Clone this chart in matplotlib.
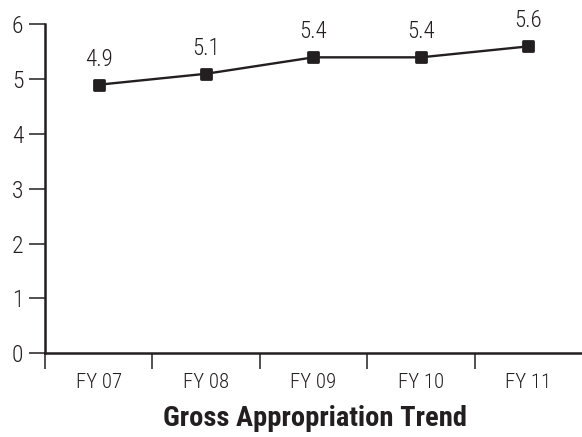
import matplotlib.pyplot as plt
from matplotlib.markers import MarkerStyle

plt.rcParams['font.family'] = ['Roboto Condensed', 'DejaVu Sans']
plt.rcParams['font.weight'] = 'light'

# Gross appropriation trend by fiscal year
years = ['FY 07', 'FY 08', 'FY 09', 'FY 10', 'FY 11']
values = [4.9, 5.1, 5.4, 5.4, 5.6]
y_ticks = [0, 1, 2, 3, 4, 5, 6]

INK = '#231f20'


def main() -> None:
    fig = plt.figure(figsize=(5.82, 4.37), dpi=100)
    ax = fig.add_axes([0.0773, 0.192, 0.9227, 0.752])

    xs = list(range(len(years)))
    marker = MarkerStyle('s', joinstyle='round')
    ax.plot(xs, values, color=INK, linewidth=1.7, marker=marker,
            markersize=7, markeredgewidth=2, markerfacecolor=INK,
            markeredgecolor=INK, clip_on=False)

    for x, v in zip(xs, values):
        ax.annotate(f'{v:.1f}', (x, v), xytext=(0, 10), textcoords='offset points',
                    ha='center', va='bottom', fontsize=16.5, color=INK)

    ax.set_xlim(-0.5, len(years) - 0.5)
    ax.set_ylim(0, 6)

    ax.set_xticks(xs)
    ax.set_xticklabels(years, fontsize=15, color=INK)
    ax.set_xticks([x - 0.5 for x in xs], minor=True)
    ax.tick_params(axis='x', which='major', length=0, pad=14)
    ax.tick_params(axis='x', which='minor', length=11.5, width=1.1,
                   color=INK, direction='out')

    ax.set_yticks(y_ticks)
    ax.set_yticklabels([str(t) for t in y_ticks], fontsize=17, color=INK)
    ax.tick_params(axis='y', length=11.5, width=1.1, color=INK, pad=4)

    for side in ['top', 'right']:
        ax.spines[side].set_visible(False)
    for side in ['left', 'bottom']:
        ax.spines[side].set_color(INK)
        ax.spines[side].set_linewidth(1.8)

    fig.text(0.541, 0.042, 'Gross Appropriation Trend', ha='center', va='center',
             fontsize=20.5, fontweight='bold', color=INK)

    fig.savefig('out.png', dpi=100)


if __name__ == '__main__':
    main()
